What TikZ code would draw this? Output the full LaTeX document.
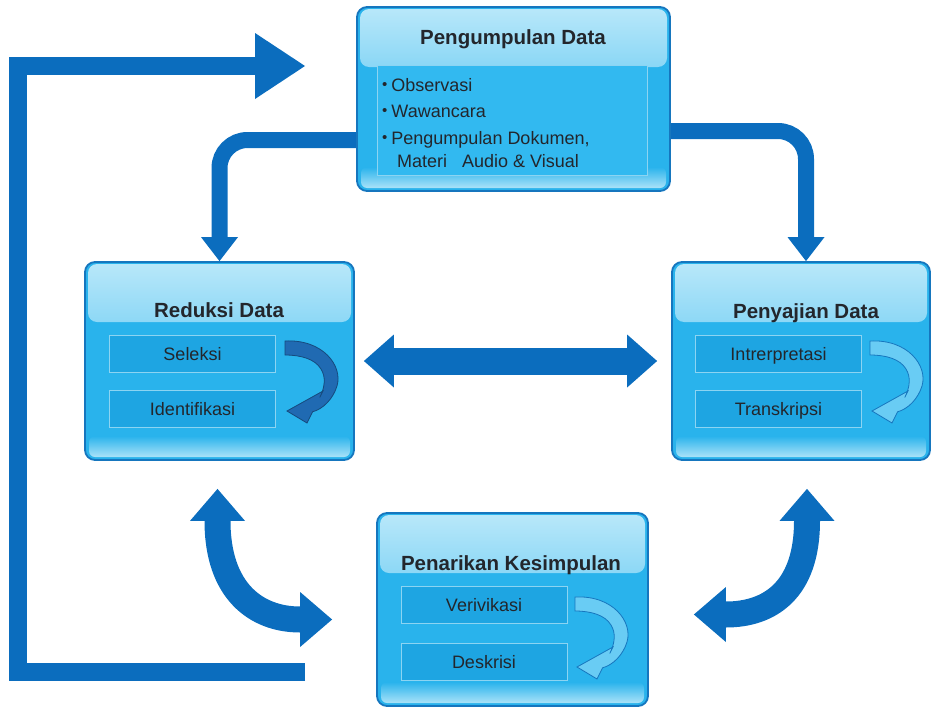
\documentclass[tikz,border=0pt]{standalone}
\usepackage{fontspec}
\setmainfont{Liberation Sans}
\usetikzlibrary{arrows.meta,backgrounds}

\definecolor{boxblue}{RGB}{41,179,236}
\definecolor{boxedge}{RGB}{22,118,190}
\definecolor{glosstop}{RGB}{185,232,250}
\definecolor{glossbottom}{RGB}{170,226,248}
\definecolor{barblue}{RGB}{30,165,226}
\definecolor{baredge}{RGB}{140,212,242}
\definecolor{panelblue}{RGB}{50,185,240}
\definecolor{arrowblue}{RGB}{11,109,190}
\definecolor{turnlight}{RGB}{105,204,244}
\definecolor{turndark}{RGB}{32,106,178}
\definecolor{textgray}{RGB}{35,38,44}

\newcommand{\itemdot}{\raisebox{1.5pt}{\fontsize{15}{15}\selectfont\textbullet}\hspace{4pt}}

\tikzset{
  stagebox/.style={draw=boxedge, line width=1.8pt, fill=boxblue, rounded corners=10pt,
    path picture={
      \shade[top color=glosstop, bottom color=boxblue, rounded corners=9pt]
        ([xshift=3pt,yshift=-2pt]path picture bounding box.north west) rectangle
        ([xshift=-3pt,yshift=-60pt]path picture bounding box.north east);
      \shade[top color=boxblue, bottom color=glossbottom, rounded corners=6pt]
        ([xshift=4pt,yshift=24pt]path picture bounding box.south west) rectangle
        ([xshift=-4pt,yshift=3pt]path picture bounding box.south east);
    }},
  panel/.style={draw=baredge, line width=0.8pt, fill=panelblue},
  bar/.style={draw=baredge, line width=0.8pt, fill=barblue, text=textgray,
    minimum width=166pt, minimum height=37pt, text height=13pt, text depth=0pt,
    font=\fontsize{18}{20}\selectfont},
  title/.style={anchor=base, text=textgray, font=\bfseries\fontsize{20.5}{24}\selectfont},
  itemtext/.style={anchor=base west, text=textgray, inner sep=0pt,
    font=\fontsize{18}{20}\selectfont},
  bigarrow/.style={draw=arrowblue},
  head/.style={-{Triangle[width=#1,length=24pt,line width=0pt]}},
  turnarrow/.pic={
    \path[pic actions] (0,0) .. controls (38,-2) and (58,25) .. (52,45)
      .. controls (48,58) and (38,68) .. (27.6,70.8) -- (22,82) -- (2,70)
      -- (38,50) -- (34.8,56.4) .. controls (40,46) and (41,36) .. (36,28)
      .. controls (30,18) and (16,14) .. (0,14) -- cycle;
  }
}

\begin{document}
\begin{tikzpicture}[x=1pt, y=-1pt]
  \useasboundingbox (0,0) rectangle (932,712);

  % the four stages
  \node[stagebox, minimum width=313pt, minimum height=184pt] (pengumpulan) at (513.5,99) {};
  \node[stagebox, minimum width=269pt, minimum height=198pt] (reduksi) at (219.5,361) {};
  \node[stagebox, minimum width=258pt, minimum height=198pt] (penyajian) at (801,361) {};
  \node[stagebox, minimum width=271pt, minimum height=193pt] (kesimpulan) at (512.5,609.5) {};

  \node[title] (judul1) at (513,44) {Pengumpulan Data};
  \node[title] (judul2) at (219,317) {Reduksi Data};
  \node[title] (judul3) at (806,318) {Penyajian Data};
  \node[title] (judul4) at (511,570) {Penarikan Kesimpulan};

  % collection methods
  \node[panel, minimum width=270pt, minimum height=110pt] (daftar) at (512,120) {};
  \node[itemtext] (observasi) at (382,91) {\itemdot Observasi};
  \node[itemtext] (wawancara) at (382,117) {\itemdot Wawancara};
  \node[itemtext] (dokumen) at (382,144) {\itemdot Pengumpulan Dokumen,};
  \node[itemtext] (materi) at (397,167) {Materi\ \ \ Audio \& Visual};

  % sub steps
  \node[bar] (seleksi) at (192.5,353.5) {Seleksi};
  \node[bar] (identifikasi) at (192.5,409) {Identifikasi};
  \node[bar] (intrerpretasi) at (778.5,353.5) {Intrerpretasi};
  \node[bar] (transkripsi) at (778.5,409) {Transkripsi};
  \node[bar] (verivikasi) at (484,605) {Verivikasi};
  \node[bar] (deskrisi) at (484,661.5) {Deskrisi};

  \pic[fill=turndark, draw=turndark!70!black, line width=0.8pt] at (285,341) {turnarrow};
  \pic[fill=turnlight, draw=boxedge, line width=0.8pt] at (870,341) {turnarrow};
  \pic[fill=turnlight, draw=boxedge, line width=0.8pt] at (575,597) {turnarrow};

  % connectors
  \coordinate (loopstart) at (305,672);
  \coordinate (loopcorner) at (18,66);
  \coordinate (loopend) at (305,66);
  \begin{pgfonlayer}{background}
    \draw[bigarrow, line width=18pt, -{Triangle[width=66pt,length=50pt,line width=0pt]}]
      (loopstart) -| (loopcorner) -- (loopend);
    \draw[bigarrow, line width=16pt, rounded corners=28pt, head=37pt]
      ([yshift=-41pt]pengumpulan.west) -| (reduksi.north);
    \draw[bigarrow, line width=16pt, rounded corners=28pt, head=37pt]
      ([yshift=-32pt]pengumpulan.east) -| ([xshift=5pt]penyajian.north);
    \draw[bigarrow, line width=27pt, shorten <=9pt, shorten >=14pt,
      {Triangle[width=53pt,length=30pt,line width=0pt]}-{Triangle[width=53pt,length=30pt,line width=0pt]}]
      (reduksi.east) -- (penyajian.west);
    \draw[bigarrow, line width=26pt, shorten <=28pt, shorten >=44pt,
      {Triangle[width=55pt,length=32pt,line width=0pt]}-{Triangle[width=55pt,length=32pt,line width=0pt]}]
      ([xshift=-2pt]reduksi.south) .. controls +(0,130) and +(-120,0) .. ([yshift=-10pt]kesimpulan.west);
    \draw[bigarrow, line width=26pt, shorten <=28pt, shorten >=45pt,
      {Triangle[width=55pt,length=32pt,line width=0pt]}-{Triangle[width=55pt,length=32pt,line width=0pt]}]
      ([xshift=6pt]penyajian.south) .. controls +(0,130) and +(120,0) .. ([yshift=-5pt]kesimpulan.east);
  \end{pgfonlayer}
\end{tikzpicture}
\end{document}
